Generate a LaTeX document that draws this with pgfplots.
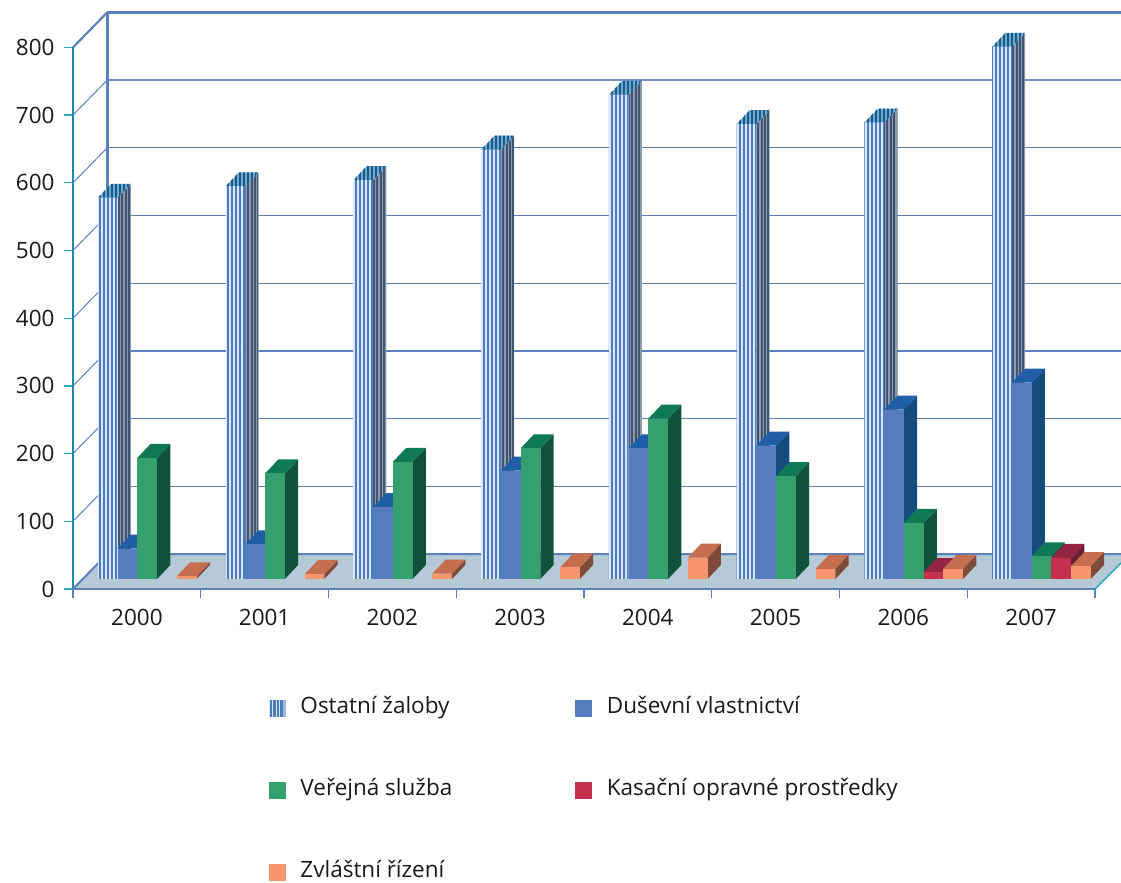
\documentclass[border=0pt]{standalone}
\usepackage{fontspec}
\setmainfont{Open Sans}
\usepackage{pgfplots}
\pgfplotsset{compat=1.18}
\usetikzlibrary{patterns.meta}
\definecolor{wall}{HTML}{5B80BE}
\definecolor{teal1}{HTML}{1E86B3}
\definecolor{teal2}{HTML}{2FA8C0}
\definecolor{floorc}{HTML}{B5C9D6}
\definecolor{bF}{HTML}{567BBF}\definecolor{bT}{HTML}{1F5FA8}\definecolor{bS}{HTML}{154C80}
\definecolor{gF}{HTML}{34A06E}\definecolor{gT}{HTML}{0E7A55}\definecolor{gS}{HTML}{10523A}
\definecolor{rF}{HTML}{C43050}\definecolor{rT}{HTML}{942545}\definecolor{rS}{HTML}{6B1F35}
\definecolor{oF}{HTML}{F7956E}\definecolor{oT}{HTML}{C66E50}\definecolor{oS}{HTML}{7E4A3A}
\definecolor{sL}{HTML}{4A7DC0}\definecolor{sE}{HTML}{9DB8DC}
\definecolor{sB}{HTML}{DCE7F5}
\definecolor{sdB}{HTML}{8A99AC}\definecolor{sdL}{HTML}{3F5472}
\definecolor{tpB}{HTML}{74A6CA}\definecolor{tpL}{HTML}{125C90}
\newcommand{\calc}[3]{%
  \pgfmathsetmacro\xa{#1+0.195+#2*0.1545}%
  \pgfmathsetmacro\xb{\xa+0.1545}%
  \pgfmathsetmacro\xc{\xb+0.104}%
  \pgfmathsetmacro\xd{\xa+0.104}%
  \pgfmathsetmacro\yt{14.8+#3}%
  \pgfmathsetmacro\yu{\yt+20.7}%
  \pgfmathsetmacro\yl{14.8+20.7}%
}
\newcommand{\dbar}[6]{%
  \ifdim #3pt>0pt
  \calc{#1}{#2}{#3}%
  \edef\tmp{\noexpand\addplot[fill=#6,draw=none,forget plot] coordinates {(\xb,14.8)(\xc,\yl)(\xc,\yu)(\xb,\yt)} --cycle;
  \noexpand\addplot[fill=#5,draw=none,forget plot] coordinates {(\xa,\yt)(\xb,\yt)(\xc,\yu)(\xd,\yu)} --cycle;
  \noexpand\addplot[fill=#4,draw=none,forget plot] coordinates {(\xa,14.8)(\xb,14.8)(\xb,\yt)(\xa,\yt)} --cycle;}\tmp
  \fi
}
\newcommand{\sbar}[3]{%
  \calc{#1}{#2}{#3}%
  \edef\tmp{\noexpand\addplot[fill=sdB,draw=none,forget plot] coordinates {(\xb,14.8)(\xc,\yl)(\xc,\yu)(\xb,\yt)} --cycle;
  \noexpand\addplot[draw=none,forget plot,pattern={Lines[angle=90,distance=3.4bp,line width=2bp]},pattern color=sdL] coordinates {(\xb,14.8)(\xc,\yl)(\xc,\yu)(\xb,\yt)} --cycle;
  \noexpand\addplot[fill=tpB,draw=none,forget plot] coordinates {(\xa,\yt)(\xb,\yt)(\xc,\yu)(\xd,\yu)} --cycle;
  \noexpand\addplot[draw=none,forget plot,pattern={Lines[angle=90,distance=4bp,line width=2bp]},pattern color=tpL] coordinates {(\xa,\yt)(\xb,\yt)(\xc,\yu)(\xd,\yu)} --cycle;
  \noexpand\addplot[fill=sB,draw=none,forget plot] coordinates {(\xa,14.8)(\xb,14.8)(\xb,\yt)(\xa,\yt)} --cycle;
  \noexpand\addplot[draw=none,forget plot,pattern={Lines[angle=90,distance=4bp,line width=2bp]},pattern color=sL] coordinates {(\xa,14.8)(\xb,14.8)(\xb,\yt)(\xa,\yt)} --cycle;}\tmp
}
% category, Ostatní, Duševní, Veřejná, Kasační, Zvláštní
\newcommand{\yearbars}[6]{%
  \sbar{#1}{0}{#2}%
  \dbar{#1}{1}{#3}{bF}{bT}{bS}%
  \dbar{#1}{2}{#4}{gF}{gT}{gS}%
  \dbar{#1}{3}{#5}{rF}{rT}{rS}%
  \dbar{#1}{4}{#6}{oF}{oT}{oS}%
}
\begin{document}
\begin{tikzpicture}
\begin{axis}[
  scale only axis, width=1022bp, height=541.6bp,
  xmin=0, xmax=8, ymin=0, ymax=800, clip=false,
  axis x line*=bottom, axis y line*=left,
  x axis line style={draw=wall,line width=1.5bp,-},
  y axis line style={draw=teal1,line width=2bp,-},
  xtick={0,1,...,8}, x tick label as interval=true,
  xticklabels={2000,2001,2002,2003,2004,2005,2006,2007},
  ytick={0,100,...,800},
  tick align=outside, major tick length=9bp,
  x tick style={draw=wall,line width=1.3bp},
  y tick style={draw=teal2,line width=1.3bp},
  /pgf/number format/assume math mode=true,
  tick label style={font=\fontsize{22.5bp}{25bp}\selectfont,text=black!90},
  xticklabel style={yshift=-8bp},
  yticklabel style={xshift=-6bp},
  legend cell align=left,
  legend style={draw=none,fill=none,at={(axis cs:1.535,-160)},anchor=north west,
    legend columns=2,inner sep=0pt,outer sep=0pt,row sep=61bp,
    nodes={font=\fontsize{22.5bp}{25bp}\selectfont,text=black!90,text height=16bp,text depth=5bp,inner sep=0pt,align=left},
    /tikz/every odd column/.style={column sep=15bp}},
]
% walls
\addplot[draw=wall,line width=1.3bp,forget plot] coordinates {(0.268,151.7)(8.2035,151.7)};
\addplot[draw=wall,line width=1.3bp,forget plot] coordinates {(0.268,251.7)(8.2035,251.7)};
\addplot[draw=wall,line width=1.3bp,forget plot] coordinates {(0.268,351.7)(8.2035,351.7)};
\addplot[draw=wall,line width=1.3bp,forget plot] coordinates {(0.268,451.7)(8.2035,451.7)};
\addplot[draw=wall,line width=1.3bp,forget plot] coordinates {(0.268,551.7)(8.2035,551.7)};
\addplot[draw=wall,line width=1.3bp,forget plot] coordinates {(0.268,651.7)(8.2035,651.7)};
\addplot[draw=wall!85,line width=1.6bp,forget plot] coordinates {(0.268,751.7)(8.2035,751.7)};
\addplot[draw=wall,line width=2.4bp,forget plot] coordinates {(0.268,851.7)(8.2035,851.7)};
\addplot[draw=wall,line width=2.6bp,forget plot] coordinates {(0.268,51.7)(0.268,851.7)};
% side diagonals
\addplot[draw=wall,line width=1bp,forget plot] coordinates {(0,100)(0.268,151.7)};
\addplot[draw=wall,line width=1bp,forget plot] coordinates {(0,200)(0.268,251.7)};
\addplot[draw=wall,line width=1bp,forget plot] coordinates {(0,300)(0.268,351.7)};
\addplot[draw=wall,line width=1bp,forget plot] coordinates {(0,400)(0.268,451.7)};
\addplot[draw=wall,line width=1bp,forget plot] coordinates {(0,500)(0.268,551.7)};
\addplot[draw=wall,line width=1bp,forget plot] coordinates {(0,600)(0.268,651.7)};
\addplot[draw=wall,line width=1bp,forget plot] coordinates {(0,700)(0.268,751.7)};
\addplot[draw=wall,line width=2.2bp,forget plot] coordinates {(0,800)(0.268,851.7)};
% floor
\addplot[fill=floorc,draw=none,forget plot] coordinates {(0,0)(0.268,51.7)(8.2035,51.7)(8.2035,38.4)(8,0)} --cycle;
\addplot[draw=wall,line width=2bp,forget plot] coordinates {(0,0)(0.268,51.7)(8.2035,51.7)};
\addplot[draw=wall,line width=1.5bp,forget plot] coordinates {(0,0)(8,0)};
\addplot[draw=teal2,line width=1.5bp,forget plot] coordinates {(8,0)(8.2035,38.4)};
% bars
\yearbars{0}{563}{45}{179}{0}{4}
\yearbars{1}{580}{51}{156}{0}{7}
\yearbars{2}{589}{106}{173}{0}{8}
\yearbars{3}{634}{160}{193}{0}{17}
\yearbars{4}{715}{193}{237}{0}{31.5}
\yearbars{5}{672}{197}{152}{0}{15}
\yearbars{6}{674}{250}{83}{10}{15}
\yearbars{7}{786}{290}{33.5}{31}{19}
% legend
\addlegendimage{legend image code/.code={
  \fill[sB] (0,-8bp) rectangle (16bp,8bp);
  \fill[sL] (0.5bp,-8bp) rectangle (2bp,8bp);
  \fill[sL] (4bp,-8bp) rectangle (5.5bp,8bp);
  \fill[sL] (7.5bp,-8bp) rectangle (9bp,8bp);
  \fill[sL] (11bp,-8bp) rectangle (12.5bp,8bp);
  \fill[sE] (14bp,-8bp) rectangle (16bp,8bp);}}
\addlegendentry{\makebox[275bp][l]{Ostatní žaloby}}
\addlegendimage{legend image code/.code={\fill[bF] (0,-8bp) rectangle (16bp,8bp);}}
\addlegendentry{Duševní vlastnictví}
\addlegendimage{legend image code/.code={\fill[gF] (0,-8bp) rectangle (16bp,8bp);}}
\addlegendentry{\makebox[275bp][l]{Veřejná služba}}
\addlegendimage{legend image code/.code={\fill[rF] (0,-8bp) rectangle (16bp,8bp);}}
\addlegendentry{Kasační opravné prostředky}
\addlegendimage{legend image code/.code={\fill[oF] (0,-8bp) rectangle (16bp,8bp);}}
\addlegendentry{\makebox[275bp][l]{Zvláštní řízení}}
\end{axis}
\pgfresetboundingbox
\path[use as bounding box] (-73bp,-294bp) rectangle (1048bp,589bp);
\end{tikzpicture}
\end{document}
